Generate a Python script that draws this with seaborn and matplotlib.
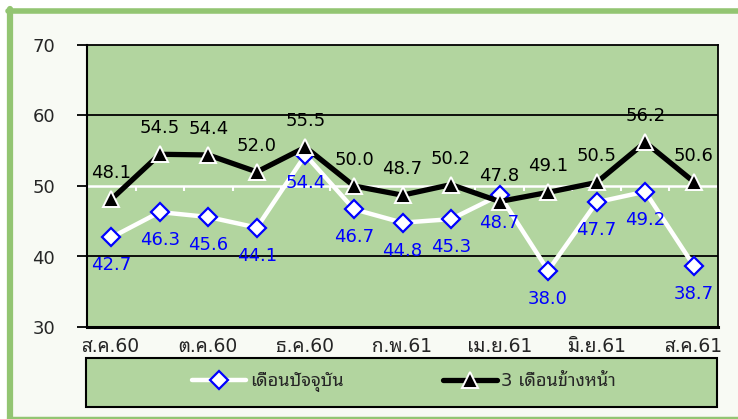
import matplotlib
matplotlib.use("Agg")
import matplotlib.pyplot as plt
import matplotlib.patches as mpatches
from matplotlib.lines import Line2D
import seaborn as sns
import pandas as pd

# ข้อมูล (อ่านค่าจากกราฟ)
months = ["ส.ค.60", "ก.ย.60", "ต.ค.60", "พ.ย.60", "ธ.ค.60", "ม.ค.61", "ก.พ.61",
          "มี.ค.61", "เม.ย.61", "พ.ค.61", "มิ.ย.61", "ก.ค.61", "ส.ค.61"]
current_month = [42.7, 46.3, 45.6, 44.1, 54.4, 46.7, 44.8, 45.3, 48.7, 38.0, 47.7, 49.2, 38.7]
next_3_months = [48.1, 54.5, 54.4, 52.0, 55.5, 50.0, 48.7, 50.2, 47.8, 49.1, 50.5, 56.2, 50.6]
series_names = ["เดือนปัจจุบัน", "3 เดือนข้างหน้า"]

df = pd.DataFrame({"idx": range(len(months)), "month": months,
                   series_names[0]: current_month, series_names[1]: next_3_months})

sns.set_style("white")
plt.rcParams["font.family"] = ["DejaVu Sans", "Noto Sans Thai Looped"]

GREEN_FILL = "#b2d59f"
GREEN_BORDER = "#93c572"
BG = "#f8faf4"

fig = plt.figure(figsize=(7.38, 4.19), dpi=100)
fig.patch.set_facecolor("white")

# พื้นหลังและกรอบของแผนภูมิ (ขอบขวาเลยภาพออกไป)
W, H = 738, 419
fig.patches.append(mpatches.Rectangle((10 / W, 1 - 417 / H), 1.0, (417 - 11) / H,
                                      transform=fig.transFigure, facecolor=BG,
                                      edgecolor="none", zorder=-5))
fig.lines.append(Line2D([10 / W, 10 / W], [1 - 418 / H, 1 - 9 / H], transform=fig.transFigure,
                        color=GREEN_BORDER, linewidth=4.5, zorder=-4))
fig.lines.append(Line2D([8 / W, 1.0], [1 - 11.5 / H, 1 - 11.5 / H], transform=fig.transFigure,
                        color=GREEN_BORDER, linewidth=4, zorder=-4))
fig.lines.append(Line2D([8 / W, 1.0], [1 - 418 / H, 1 - 418 / H], transform=fig.transFigure,
                        color=GREEN_BORDER, linewidth=2.5, zorder=-4))
# กล่องคำอธิบาย
fig.patches.append(mpatches.Rectangle((86 / W, 1 - 407 / H), (717 - 86) / W, (407 - 358) / H,
                                      transform=fig.transFigure, facecolor=GREEN_FILL,
                                      edgecolor="black", linewidth=1.5, zorder=-3))

ax = fig.add_axes([87 / W, 1 - 327 / H, (718 - 87) / W, (327 - 45) / H])
ax.set_facecolor(GREEN_FILL)

for y in [40, 60]:
    ax.axhline(y, color="black", linewidth=1.3, zorder=1)
ax.axhline(50, color="white", linewidth=1.8, zorder=1)
ax.vlines([i - 0.5 for i in range(len(months) + 1)], 49.3, 50, color="white", linewidth=1.5, zorder=1)

sns.lineplot(data=df, x="idx", y=series_names[0], ax=ax, color="white", linewidth=3.2,
             marker="D", markersize=9, markerfacecolor="white", markeredgecolor="#0000ff",
             markeredgewidth=1.6, label=series_names[0], zorder=3)
sns.lineplot(data=df, x="idx", y=series_names[1], ax=ax, color="black", linewidth=3.8,
             marker="^", markersize=11, markerfacecolor="black", markeredgecolor="white",
             markeredgewidth=1.4, label=series_names[1], zorder=4)

for i, v in enumerate(current_month):
    ax.annotate(f"{v:.1f}", (i, v), xytext=(0, -19), textcoords="offset pixels",
                ha="center", va="top", color="#0000ff", fontsize=13, zorder=5)
for i, v in enumerate(next_3_months):
    ax.annotate(f"{v:.1f}", (i, v), xytext=(0, 17), textcoords="offset pixels",
                ha="center", va="bottom", color="black", fontsize=13, zorder=5)

ax.set_xlim(-0.5, len(months) - 0.5)
ax.set_ylim(30, 70)
ax.set_yticks([30, 40, 50, 60, 70])
ax.set_xticks(range(0, len(months), 2))
ax.set_xticklabels(months[::2])
ax.tick_params(axis="y", direction="out", length=7, width=1.3, color="black",
               labelsize=13, pad=16, left=True)
ax.tick_params(axis="x", length=0, labelsize=13.5, pad=7)
ax.set_xlabel("")
ax.set_ylabel("")
for side in ["left", "bottom", "right", "top"]:
    ax.spines[side].set_visible(True)
    ax.spines[side].set_color("black")
ax.spines["left"].set_linewidth(1.5)
ax.spines["bottom"].set_linewidth(2.2)
ax.spines["right"].set_linewidth(1.3)
ax.spines["top"].set_linewidth(1.3)

handles, labels = ax.get_legend_handles_labels()
ax.get_legend().remove()
fig.legend(handles, labels, loc="center", bbox_to_anchor=(404 / W, 1 - 382 / H),
           ncol=2, frameon=False, fontsize=13, handlelength=3.0, handletextpad=0.2,
           columnspacing=5.5)

fig.savefig("out.png", dpi=100, facecolor=fig.get_facecolor())
